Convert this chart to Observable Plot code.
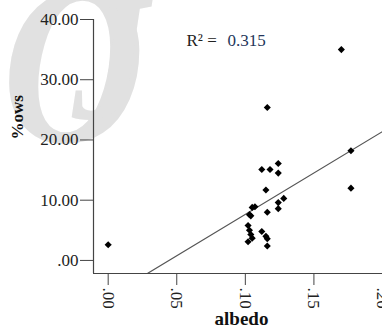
<!DOCTYPE html>
<html><head><meta charset="utf-8">
<script src="https://cdn.jsdelivr.net/npm/d3@7"></script>
<script src="https://cdn.jsdelivr.net/npm/@observablehq/plot@0.6"></script>
<style>
body{margin:0;background:#fff;}
#wrap{position:relative;width:382px;height:334px;overflow:hidden;background:#fff;}
.wm{position:absolute;font-family:'Liberation Serif',serif;font-style:italic;font-weight:bold;color:#e1e1e1;line-height:1;white-space:nowrap;transform-origin:0 0;}
#chart{position:absolute;left:0;top:0;}
</style></head><body>
<div id="wrap"><div class="wm" style="left:2px;top:-50px;font-size:230px;transform:scale(0.86,1);">O</div><div class="wm" style="left:72px;top:-32px;font-size:180px;transform:scale(0.85,1);">J</div><div id="chart"></div></div>
<script>
// Scatter data (albedo vs %ows)
const albedo = [0.000, 0.170, 0.116, 0.177, 0.177, 0.112, 0.118, 0.124, 0.124, 0.115,
                0.116, 0.124, 0.128, 0.124, 0.107, 0.105, 0.103, 0.104, 0.102, 0.103,
                0.104, 0.105, 0.102, 0.112, 0.115, 0.116, 0.116];
const ows = [2.6, 35.0, 25.4, 18.2, 12.0, 15.1, 15.1, 16.1, 14.5, 11.7,
             8.0, 9.6, 10.3, 8.6, 8.9, 8.8, 7.6, 7.4, 5.8, 5.0,
             4.3, 3.7, 3.1, 4.8, 4.0, 3.6, 2.4];
// Axis ticks
const xTicks = [0, 0.05, 0.10, 0.15, 0.20];
const yTicks = [0, 10, 20, 30, 40];
const xDomain = [-0.0107, 0.20];
const yDomain = [-2.17, 40];
// Fit line (SPSS linear fit)
const fitIntercept = -6.1;
const fitSlope = 137.5;
const r2Value = "0.315";
const xTitle = "albedo";
const yTitle = "%ows";

const points = albedo.map((a, i) => ({albedo: a, ows: ows[i]}));
const fit = xDomain.map(x => ({albedo: x, ows: fitIntercept + fitSlope * x}));
const fmt = d => d3.format(".2f")(d).replace(/^0\./, ".");
const serif = "'Liberation Serif', 'Times New Roman', serif";

const chart = Plot.plot({
  width: 382, height: 334,
  marginLeft: 93, marginRight: 0, marginTop: 19, marginBottom: 61,
  x: {domain: xDomain},
  y: {domain: yDomain},
  style: {fontFamily: serif, fontSize: "17px", color: "#222", background: "transparent", overflow: "visible"},
  marks: [
    Plot.line(fit, {x: "albedo", y: "ows", stroke: "#555", strokeWidth: 1.2, clip: "frame"}),
    Plot.ruleX([xDomain[0]], {stroke: "#444", strokeWidth: 1.2}),
    Plot.ruleY([yDomain[0]], {stroke: "#444", strokeWidth: 1.2}),
    Plot.axisY({ticks: yTicks, tickSize: 13, tickPadding: 2, tickFormat: fmt, label: null, stroke: "#444", fill: "#222"}),
    Plot.axisX({ticks: xTicks, tickSize: 12, tickPadding: 2, tickRotate: 90, tickFormat: fmt, label: null, stroke: "#444", fill: "#222"}),
    Plot.dot(points, {x: "albedo", y: "ows", symbol: "diamond2", r: 3.2, fill: "#000", stroke: null}),
    Plot.text([yTitle], {text: d => d, frameAnchor: "left", dx: -76, dy: -7, rotate: -90, fontWeight: "bold", fontSize: 17, fill: "#111"}),
    Plot.text([xTitle], {text: d => d, frameAnchor: "bottom", dx: 3.5, dy: 51, fontWeight: "bold", fontSize: 19, fill: "#111", letterSpacing: "0.8px"}),
    Plot.text(["R² ="], {text: d => d, frameAnchor: "top-left", dx: 93, dy: 21, lineAnchor: "middle", textAnchor: "start", fontSize: 17, fill: "#222"}),
    Plot.text([r2Value], {text: d => d, frameAnchor: "top-left", dx: 134, dy: 21, lineAnchor: "middle", textAnchor: "start", fontSize: 17, fill: "#24365a"})
  ]
});
document.getElementById("chart").append(chart);
</script>
</body></html>
